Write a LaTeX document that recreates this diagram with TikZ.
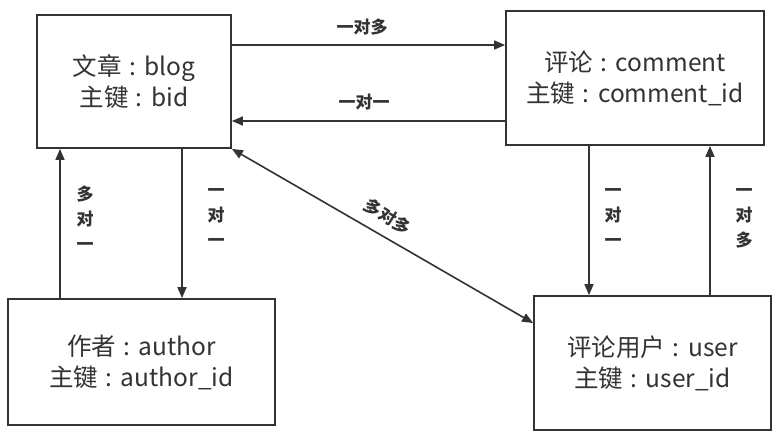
\documentclass[tikz,border=0pt]{standalone}
\usepackage{fontspec}
\setmainfont{Noto Sans CJK SC}
\usetikzlibrary{arrows.meta}
\definecolor{ink}{HTML}{333333}
\newcommand{\sepc}{\hspace{0.3em}:\hspace{0.35em}}
\tikzset{
  entity/.style={draw=ink, line width=1.8pt, fill=white, text=ink, align=center,
    font=\fontsize{24.5}{31}\selectfont, inner sep=0pt},
  arr/.style={draw=ink, line width=1.6pt, -{Triangle[length=11pt,width=9pt]}},
  darr/.style={draw=ink, line width=1.6pt, {Triangle[length=11pt,width=9pt]}-{Triangle[length=11pt,width=9pt]}},
  lbl/.style={text=ink, font=\fontsize{17}{25}\selectfont\bfseries, inner sep=0pt, align=center},
}
\begin{document}
\begin{tikzpicture}[x=1pt,y=-1pt]
\fill[white] (0,0) rectangle (779,440);
\useasboundingbox (0,0) rectangle (779,440);

\node[entity, minimum width=194pt, minimum height=133pt] (blog) at (134,81.5) {文章\sepc blog\\主键\sepc bid};
\node[entity, minimum width=258pt, minimum height=134pt] (comment) at (635,78) {评论\sepc comment\\主键\sepc comment\_id};
\node[entity, minimum width=267pt, minimum height=126pt] (author) at (141.5,362) {作者\sepc author\\主键\sepc author\_id};
\node[entity, minimum width=237pt, minimum height=134pt] (user) at (652.5,363) {评论用户\sepc user\\主键\sepc user\_id};

\draw[arr] (blog.east |- 0,45) -- (comment.west |- 0,45);
\draw[arr] (comment.west |- 0,121) -- (blog.east |- 0,121);
\draw[arr] (author.north -| 60,0) -- (blog.south -| 60,0);
\draw[arr] (blog.south -| 182,0) -- (author.north -| 182,0);
\draw[arr] (comment.south -| 589,0) -- (user.north -| 589,0);
\draw[arr] (user.north -| 710,0) -- (comment.south -| 710,0);
\draw[darr] (blog.south east) -- (user.west |- 0,323);

\node[lbl] (l1) at (362,27) {一对多};
\node[lbl] (l2) at (364,102) {一对一};
\node[lbl, rotate=-32] (l3) at (388,217) {多对多};
\node[lbl] (l4) at (85,218) {多\\对\\一};
\node[lbl] (l5) at (216,218) {一\\对\\一};
\node[lbl] (l6) at (613,218) {一\\对\\一};
\node[lbl] (l7) at (744,218) {一\\对\\多};
\end{tikzpicture}
\end{document}
